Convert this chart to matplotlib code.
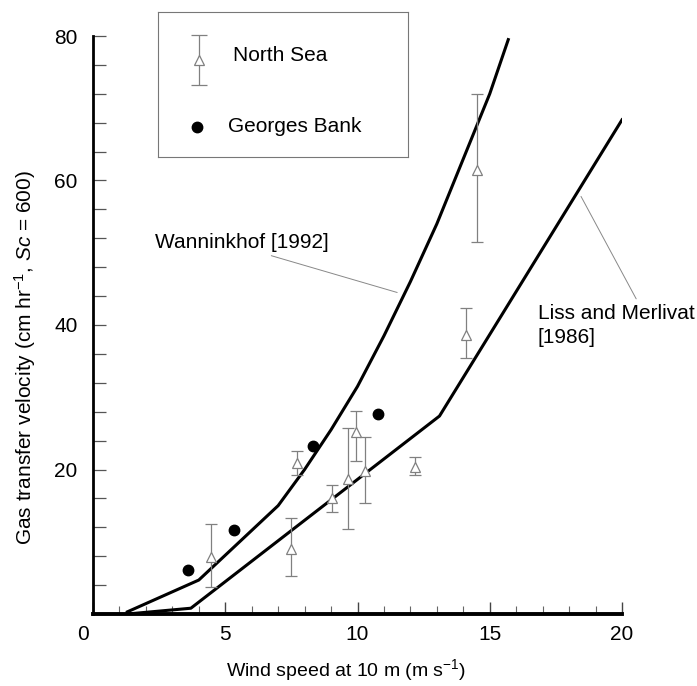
import matplotlib
matplotlib.use("Agg")
import matplotlib.pyplot as plt
import matplotlib.transforms as mtransforms
from matplotlib.ticker import FixedLocator, MultipleLocator
import numpy as np

# ---------------- data ----------------
wann_x = [1.3, 4.0, 7.0, 8.0, 9.0, 10.0, 11.0, 12.0, 13.0, 14.0, 15.0, 15.7]
wann_y = [0.3, 4.7, 15.0, 20.0, 25.5, 31.5, 38.5, 46.0, 54.0, 63.0, 72.0, 79.5]

lm_x = [1.3, 3.7, 13.1, 20.0]
lm_y = [0.0, 0.8, 27.4, 68.4]

ns_x = [4.46, 7.49, 7.7, 9.04, 9.64, 9.94, 10.3, 12.17, 14.1, 14.5]
ns_y = [7.9, 9.0, 20.9, 16.1, 18.7, 25.2, 19.8, 20.4, 38.6, 61.4]
ns_lo = [3.7, 5.3, 19.3, 14.1, 11.8, 21.2, 15.4, 19.3, 35.5, 51.5]
ns_hi = [12.5, 13.3, 22.6, 17.9, 25.8, 28.1, 24.5, 21.7, 42.4, 72.0]

gb_x = [3.59, 5.33, 8.3, 10.78]
gb_y = [6.1, 11.6, 23.3, 27.7]

x_ticks = [0, 5, 10, 15, 20]
x_ticklabels = ["0", "5", "10", "15", "20"]
y_ticks = [20, 40, 60, 80]
y_ticklabels = ["20", "40", "60", "80"]

ns_label = "North Sea"
gb_label = "Georges Bank"
wann_label = "Wanninkhof [1992]"
lm_label = "Liss and Merlivat\n[1986]"
x_label = r"Wind speed at 10 m (m s$^{-1}$)"
y_label = r"Gas transfer velocity (cm hr$^{-1}$, $\mathit{Sc}$ = 600)"

# ---------------- style ----------------
plt.rcParams["font.family"] = ["Liberation Sans", "DejaVu Sans"]
plt.rcParams["mathtext.fontset"] = "custom"
plt.rcParams["mathtext.rm"] = "Liberation Sans"
plt.rcParams["mathtext.it"] = "Liberation Sans:italic"

W, H = 697, 686
fig = plt.figure(figsize=(W / 100, H / 100), dpi=100)
ax = fig.add_axes([93 / W, 1 - 614 / H, 529 / W, 578 / H])

err_col = "#808080"

ax.plot(wann_x, wann_y, color="black", lw=2.2, solid_joinstyle="round", zorder=3)
ax.plot(lm_x, lm_y, color="black", lw=2.2, solid_joinstyle="round", zorder=3)

ns_y_a = np.array(ns_y)
yerr = [ns_y_a - np.array(ns_lo), np.array(ns_hi) - ns_y_a]
ax.errorbar(ns_x, ns_y, yerr=yerr, fmt="^", mfc="white", mec=err_col, mew=0.9,
            ms=7, ecolor=err_col, elinewidth=0.9, capsize=4.5, capthick=0.9,
            zorder=4)
ax.plot(gb_x, gb_y, "o", color="black", ms=7.5, zorder=5, linestyle="none")

ax.set_xlim(0, 20)
ax.set_ylim(0, 80)

for s in ["top", "right"]:
    ax.spines[s].set_visible(False)
ax.spines["left"].set_linewidth(2.0)
ax.spines["bottom"].set_linewidth(2.8)

ax.xaxis.set_major_locator(FixedLocator(x_ticks))
ax.set_xticklabels(x_ticklabels)
ax.xaxis.set_minor_locator(MultipleLocator(1))
ax.yaxis.set_major_locator(FixedLocator(y_ticks))
ax.set_yticklabels(y_ticklabels)
ax.yaxis.set_minor_locator(MultipleLocator(4))

ax.tick_params(axis="x", which="major", direction="in", length=8.5, width=1.0,
               color="#444444", labelsize=15, pad=8)
ax.tick_params(axis="x", which="minor", direction="in", length=6, width=0.8,
               color="#666666")
ax.tick_params(axis="y", which="both", direction="in", length=9.5, width=0.9,
               color="#555555", labelsize=15, pad=11)

# shift the "0" x-label slightly left as in the reference
lab0 = ax.xaxis.get_major_ticks()[0].label1
lab0.set_transform(lab0.get_transform() +
                   mtransforms.ScaledTranslation(-10 / 100, 0, fig.dpi_scale_trans))

ax.set_xlabel(x_label, fontsize=14)
ax.xaxis.set_label_coords(0.478, -0.074)
ax.set_ylabel(y_label, fontsize=15)
ax.yaxis.set_label_coords(-0.104, 0.443)

ax.annotate(wann_label, xy=(11.5, 44.5), xytext=(2.34, 51.4), ha="left",
            va="center", fontsize=15,
            arrowprops=dict(arrowstyle="-", color="#888888", lw=0.7,
                            relpos=(0.6, 0), shrinkA=2, shrinkB=0))
ax.annotate(lm_label, xy=(18.45, 57.8), xytext=(16.82, 42.9), ha="left",
            va="top", fontsize=15, linespacing=1.3, annotation_clip=False,
            arrowprops=dict(arrowstyle="-", color="#888888", lw=0.7,
                            relpos=(0.645, 1), shrinkA=2, shrinkB=0))

# ---------------- legend box ----------------
lax = fig.add_axes([158 / W, 1 - 157 / H, 250 / W, 145 / H], zorder=10)
lax.set_xlim(0, 1)
lax.set_ylim(0, 1)
lax.set_xticks([])
lax.set_yticks([])
for s in lax.spines.values():
    s.set_color("#777777")
    s.set_linewidth(0.8)
lax.errorbar([0.164], [0.67], yerr=[[0.172], [0.172]], fmt="^", mfc="white",
             mec=err_col, mew=0.9, ms=7, ecolor=err_col, elinewidth=0.9,
             capsize=5.5, capthick=0.9)
lax.plot([0.156], [0.207], "o", color="black", ms=7.5)
lax.text(0.30, 0.703, ns_label, va="center", ha="left", fontsize=15)
lax.text(0.28, 0.207, gb_label, va="center", ha="left", fontsize=15)

fig.savefig("out.png", dpi=100)
